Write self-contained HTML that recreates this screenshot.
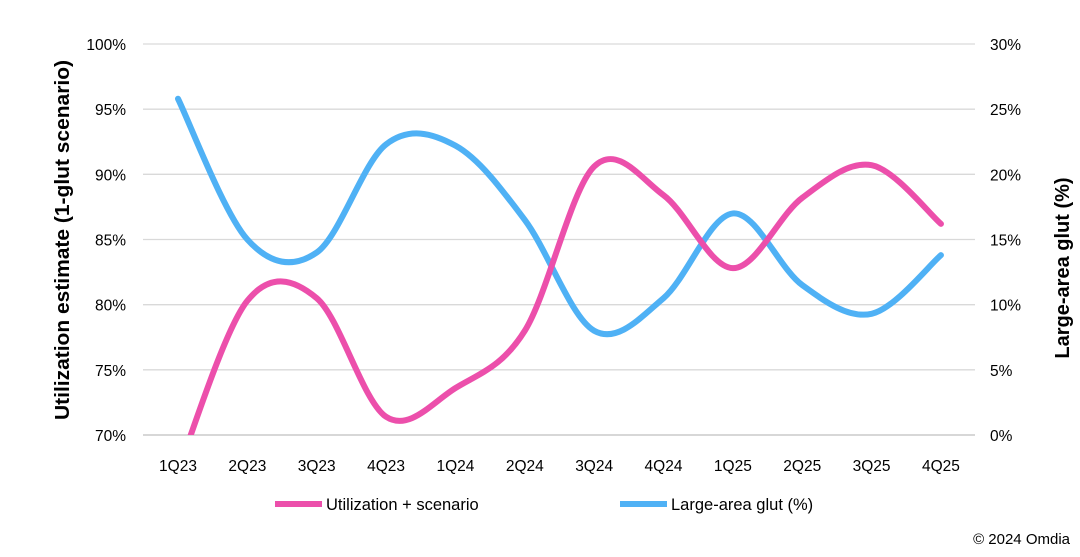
<!DOCTYPE html>
<html><head><meta charset="utf-8"><style>
body{margin:0;background:#fff;font-family:"Liberation Sans",sans-serif}
</style></head><body>
<svg id="s" width="1080" height="552" xmlns="http://www.w3.org/2000/svg" font-family="Liberation Sans, sans-serif">
<defs><clipPath id="c"><rect x="143" y="40" width="832" height="395"/></clipPath></defs>
<g id="grid" stroke="#d9d9d9" stroke-width="1.3"></g>
<line x1="143" y1="435" x2="975" y2="435" stroke="#bfbfbf" stroke-width="1.3"/>
<g id="lbl" font-size="15.5" fill="#000"></g>
<text transform="translate(69,240) rotate(-90)" text-anchor="middle" font-size="20.5" font-weight="bold" textLength="360" lengthAdjust="spacingAndGlyphs">Utilization estimate (1-glut scenario)</text>
<text transform="translate(1069,268) rotate(-90)" text-anchor="middle" font-size="20" font-weight="bold">Large-area glut (%)</text>
<g clip-path="url(#c)" fill="none" stroke-width="6" stroke-linecap="round">
<path id="pb" stroke="#4fb1f5"/>
<path id="pp" stroke="#ec4fab"/>
</g>
<line x1="275" y1="504" x2="322" y2="504" stroke="#ec4fab" stroke-width="6"/>
<text x="326" y="510" font-size="16.5">Utilization + scenario</text>
<line x1="620" y1="504" x2="667" y2="504" stroke="#4fb1f5" stroke-width="6"/>
<text x="671" y="510" font-size="16.5">Large-area glut (%)</text>
<text x="1070" y="544" font-size="15" text-anchor="end">© 2024 Omdia</text>
</svg>
<script>
var NS="http://www.w3.org/2000/svg",g=document.getElementById('grid'),l=document.getElementById('lbl');
function el(p,t,a,tx){var e=document.createElementNS(NS,t);for(var k in a)e.setAttribute(k,a[k]);if(tx)e.textContent=tx;p.appendChild(e);}
for(var i=0;i<=6;i++){var y=435-i*391/6;if(i>0)el(g,'line',{x1:143,x2:975,y1:y,y2:y});
el(l,'text',{x:126,y:y+6,'text-anchor':'end'},(70+5*i)+'%');el(l,'text',{x:990,y:y+6},(5*i)+'%');}
var cats=['1Q23','2Q23','3Q23','4Q23','1Q24','2Q24','3Q24','4Q24','1Q25','2Q25','3Q25','4Q25'];
var X=cats.map(function(c,i){return 178+i*69.36;});
cats.forEach(function(c,i){el(l,'text',{x:X[i],y:471,'text-anchor':'middle'},c);});
var pink=[67.3,80.3,80.5,71.4,73.6,78,90.6,88.4,82.8,88.2,90.7,86.2],blue=[25.8,15,14,22.3,22.2,16.5,8,10.5,17,11.5,9.3,13.8];
function path(P){var d='M'+P[0][0]+','+P[0][1];for(var i=0;i<P.length-1;i++){var p0=P[i-1]||P[i],p1=P[i],p2=P[i+1],p3=P[i+2]||p2;
d+=' C'+(p1[0]+(p2[0]-p0[0])/6)+','+(p1[1]+(p2[1]-p0[1])/6)+' '+(p2[0]-(p3[0]-p1[0])/6)+','+(p2[1]-(p3[1]-p1[1])/6)+' '+p2[0]+','+p2[1];}return d;}
document.getElementById('pp').setAttribute('d',path(pink.map(function(v,i){return[X[i],44+(100-v)/30*391];})));
document.getElementById('pb').setAttribute('d',path(blue.map(function(v,i){return[X[i],435-v/30*391];})));
</script>
</body></html>
